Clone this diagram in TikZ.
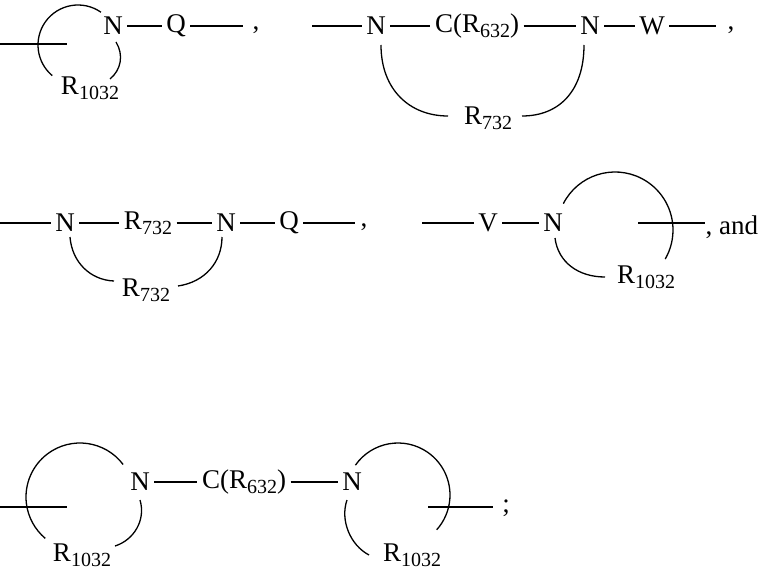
\documentclass[tikz,border=0pt]{standalone}
\usepackage{fontspec}
\setmainfont{Liberation Serif}
\newcommand{\sbs}[1]{\raisebox{-0.4ex}{\fontsize{20}{20}\selectfont #1}}
\begin{document}
\begin{tikzpicture}[x=1pt,y=-1pt,line width=1.3pt,
  t/.style={inner xsep=4pt,inner ysep=0pt,font=\fontsize{27}{27}\selectfont},
  l/.style={inner sep=0pt,font=\fontsize{27}{27}\selectfont}]
\useasboundingbox (0,0) rectangle (767,580);
% ---- row 1, item 1
\node[t] (a1) at (113,26) {N};
\node[t] (a2) at (176,26) {Q};
\coordinate (a3) at (243,26);
\coordinate (a0) at (0,44); \coordinate (a0e) at (67,44);
\node[l] at (256,30) {,};
\draw (a1) -- (a2); \draw (a2) -- (a3); \draw (a0) -- (a0e);
\draw (78,45) ++(-55:40) arc[start angle=-55,end angle=-230,radius=40];
\draw (116,42) .. controls (124,55) and (121,70) .. (110,79);
\node[l] (ar) at (90,88) {R\sbs{1032}};
% ---- row 1, item 2
\coordinate (b0) at (312,26);
\node[t] (b1) at (376,26) {N};
\node[t] (b2) at (477,26) {C(R\sbs{632})};
\node[t] (b3) at (590,26) {N};
\node[t] (b4) at (652,26) {W};
\coordinate (b5) at (716,26);
\node[l] at (731,30) {,};
\draw (b0) -- (b1); \draw (b1) -- (b2); \draw (b2) -- (b3); \draw (b3) -- (b4); \draw (b4) -- (b5);
\node[l] (br) at (488,118) {R\sbs{732}};
\draw (381,45) .. controls (381,90) and (410,116) .. (448,116);
\draw (584,45) .. controls (584,90) and (560,116) .. (522,116);
% ---- row 2, item 1
\coordinate (c0) at (0,223);
\node[t] (c1) at (65,223) {N};
\node[t] (c2) at (148,223) {R\sbs{732}};
\node[t] (c3) at (226,223) {N};
\node[t] (c4) at (289,223) {Q};
\coordinate (c5) at (355,223);
\node[l] at (364,227) {,};
\draw (c0) -- (c1); \draw (c1) -- (c2); \draw (c2) -- (c3); \draw (c3) -- (c4); \draw (c4) -- (c5);
\node[l] (cr) at (146,290) {R\sbs{732}};
\draw (70,237) .. controls (72,262) and (90,280) .. (114,281);
\draw (222,237) .. controls (222,262) and (205,282) .. (178,286);
% ---- row 2, item 2
\coordinate (d0) at (422,223);
\node[t] (d1) at (488,223) {V};
\node[t] (d2) at (553,223) {N};
\coordinate (d3) at (638,223); \coordinate (d4) at (705,223);
\draw (d0) -- (d1); \draw (d1) -- (d2); \draw (d3) -- (d4);
\node[l,anchor=west] at (705,227) {, and};
\draw (615,230) ++(-153:58) arc[start angle=-153,end angle=30,radius=58];
\draw (555,238) .. controls (558,262) and (578,277) .. (605,277);
\node[l] (dr) at (646,277) {R\sbs{1032}};
% ---- row 3
\coordinate (e0) at (0,507); \coordinate (e0e) at (67,507);
\draw (e0) -- (e0e);
\draw (80,497) ++(-37:54) arc[start angle=-37,end angle=-230,radius=54];
\draw (140,500) .. controls (146,520) and (134,540) .. (115,546);
\node[l] (er1) at (82,555) {R\sbs{1032}};
\node[t] (e1) at (140,482) {N};
\node[t] (e2) at (244,482) {C(R\sbs{632})};
\node[t] (e3) at (352,482) {N};
\draw (e1) -- (e2); \draw (e2) -- (e3);
\draw (398,495) ++(-145:52) arc[start angle=-145,end angle=42,radius=52];
\draw (347,500) .. controls (340,520) and (350,545) .. (369,555);
\node[l] (er2) at (412,555) {R\sbs{1032}};
\coordinate (e4) at (428,507); \coordinate (e5) at (493,507);
\draw (e4) -- (e5);
\node[l] at (506,508) {;};
\end{tikzpicture}
\end{document}
